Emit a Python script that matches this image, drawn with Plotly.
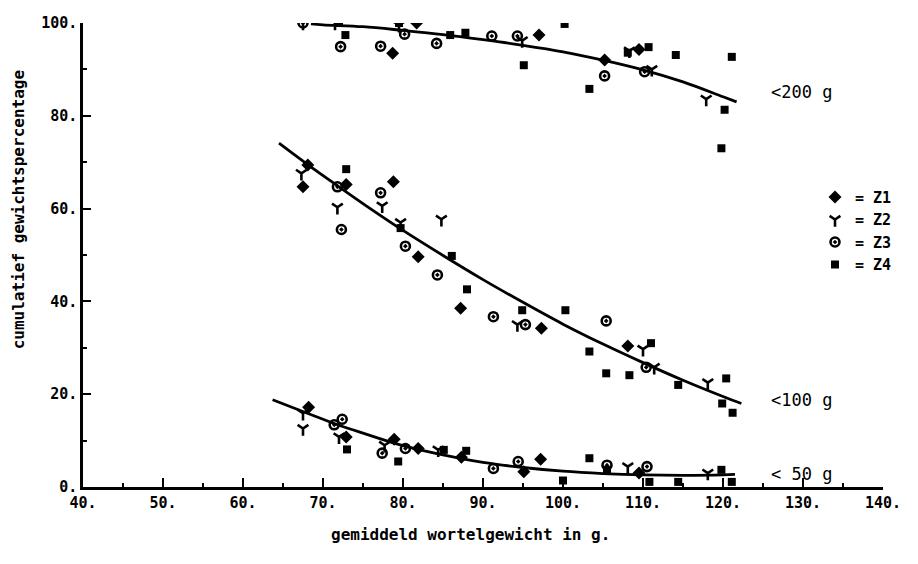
import plotly.graph_objects as go

# ---- data ----
z1_x = [78.7, 81.7, 97.0, 105.2, 109.5,
        68.1, 67.5, 72.9, 78.8, 81.9, 87.2, 97.3, 108.1,
        68.2, 72.9, 78.9, 81.9, 87.3, 95.1, 97.2, 109.5]
z1_y = [93.5, 100.0, 97.4, 92.0, 94.3,
        69.4, 64.7, 65.2, 65.8, 49.6, 38.5, 34.2, 30.4,
        17.2, 10.8, 10.3, 8.3, 6.4, 3.3, 6.0, 3.0]

z2_x = [67.5, 71.5, 79.5, 94.9, 108.3, 111.1, 117.9,
        67.3, 71.8, 77.4, 79.7, 84.8, 94.3, 110.0, 111.4, 118.1,
        67.5, 67.5, 72.0, 77.7, 84.4, 108.1, 118.1]
z2_y = [100.0, 100.0, 99.5, 96.2, 94.0, 90.0, 83.6,
        67.6, 60.3, 60.6, 57.0, 57.7, 35.0, 29.7, 25.8, 22.5,
        15.9, 12.6, 10.8, 9.0, 8.0, 4.4, 3.0]

z3_x = [67.5, 72.2, 77.2, 80.2, 84.2, 91.1, 94.3, 105.2, 110.2,
        71.8, 72.3, 77.2, 80.3, 84.3, 91.3, 95.3, 105.4, 110.4,
        72.4, 71.4, 77.4, 80.3, 91.3, 94.4, 105.5, 110.5]
z3_y = [100.0, 94.9, 95.0, 97.6, 95.6, 97.2, 97.2, 88.6, 89.5,
        64.7, 55.5, 63.4, 51.9, 45.7, 36.7, 35.0, 35.8, 25.8,
        14.6, 13.4, 7.3, 8.3, 4.0, 5.5, 4.7, 4.4]

z4_x = [72.0, 72.8, 79.5, 85.9, 87.8, 95.1, 100.2, 103.3, 108.1, 110.7, 114.1, 121.1, 120.2, 119.8,
        72.9, 79.7, 86.1, 88.0, 94.9, 100.3, 103.3, 105.4, 108.3, 111.0, 114.4, 120.4, 119.9, 121.2,
        73.0, 79.4, 85.1, 87.9, 100.0, 103.3, 105.5, 110.8, 114.4, 119.8, 121.1]
z4_y = [100.0, 97.4, 100.0, 97.4, 97.9, 90.9, 99.8, 85.8, 93.6, 94.8, 93.1, 92.7, 81.3, 73.0,
        68.5, 55.8, 49.8, 42.6, 38.1, 38.1, 29.2, 24.5, 24.1, 31.0, 22.0, 23.4, 18.0, 16.0,
        8.1, 5.5, 8.0, 7.8, 1.4, 6.2, 3.7, 1.1, 1.1, 3.7, 1.1]

# fitted curves
c200_x = [68.5, 70, 75, 80, 85, 90, 95, 100, 105, 110, 115, 120, 121.7]
c200_y = [99.8, 99.6, 99.2, 98.4, 97.5, 96.4, 95.2, 93.8, 92.0, 89.9, 87.3, 84.1, 83.0]
c100_x = [64.5, 68, 72, 76, 80, 85, 90, 95, 100, 105, 110, 115, 120, 122.3]
c100_y = [74.1, 69.6, 64.7, 59.9, 55.3, 49.9, 44.7, 39.8, 35.1, 30.8, 26.8, 23.0, 19.5, 18.0]
c50_x = [63.7, 67, 70, 72, 75, 80, 85, 90, 95, 100, 105, 110, 115, 120, 121.5]
c50_y = [18.8, 16.6, 14.6, 13.3, 11.6, 8.9, 6.9, 5.3, 4.2, 3.4, 2.9, 2.6, 2.5, 2.6, 2.7]

curve_labels = ["<200 g", "<100 g", "< 50 g"]
curve_label_y = [85.1, 18.8, 2.8]

x_ticks = [40, 50, 60, 70, 80, 90, 100, 110, 120, 130, 140]
y_ticks = [0, 20, 40, 60, 80, 100]

FONT = "DejaVu Sans Mono"

fig = go.Figure()

for cx, cy in [(c200_x, c200_y), (c100_x, c100_y), (c50_x, c50_y)]:
    fig.add_trace(go.Scatter(x=cx, y=cy, mode="lines", showlegend=False,
                             line=dict(color="black", width=2.8, shape="spline"),
                             hoverinfo="skip"))

series = [
    ("= Z1", z1_x, z1_y, dict(symbol="diamond", size=10, color="black")),
    ("= Z2", z2_x, z2_y, dict(symbol="y-down", size=9, color="black",
                               line=dict(color="black", width=2.6))),
    ("= Z3", z3_x, z3_y, dict(symbol="circle-open-dot", size=9, color="black",
                               line=dict(color="black", width=2.6))),
    ("= Z4", z4_x, z4_y, dict(symbol="square", size=8, color="black")),
]
for name, xs, ys, mk in series:
    fig.add_trace(go.Scatter(x=xs, y=ys, mode="markers", name=name, marker=mk))

for txt, yy in zip(curve_labels, curve_label_y):
    fig.add_annotation(x=125.7, y=yy, xref="x", yref="y", text=txt, showarrow=False,
                       xanchor="left", yanchor="middle",
                       font=dict(family=FONT, size=17, color="black"))

fig.add_annotation(x=-0.094, y=0.597, xref="paper", yref="paper",
                   text="cumulatief gewichtspercentage", textangle=-90, showarrow=False,
                   font=dict(family=FONT, size=16, color="black", weight="bold"))
fig.add_annotation(x=0.484, y=-0.103, xref="paper", yref="paper",
                   text="gemiddeld wortelgewicht in g.", showarrow=False,
                   yanchor="middle",
                   font=dict(family=FONT, size=16, color="black", weight="bold"))

fig.update_layout(
    width=918, height=564,
    margin=dict(l=83, r=35, t=23, b=77),
    paper_bgcolor="white", plot_bgcolor="white",
    font=dict(family=FONT, color="black"),
    legend=dict(x=0.915, y=0.66, xanchor="left", yanchor="top",
                bgcolor="rgba(0,0,0,0)", font=dict(family=FONT, size=15, color="black", weight="bold"),
                itemwidth=30, tracegroupgap=2),
    xaxis=dict(range=[40, 140], showgrid=False, zeroline=False,
               showline=True, linecolor="black", linewidth=2.5,
               ticks="inside", ticklen=9, tickwidth=2, tickcolor="black",
               tickvals=x_ticks, ticktext=[f"{v}." for v in x_ticks],
               tickfont=dict(family=FONT, size=15, color="black", weight="bold"),
               minor=dict(dtick=5, tick0=40, ticks="inside", ticklen=4, tickwidth=2, tickcolor="black")),
    yaxis=dict(range=[0, 100], showgrid=False, zeroline=False,
               showline=True, linecolor="black", linewidth=2.5,
               ticks="inside", ticklen=8, tickwidth=2, tickcolor="black",
               tickvals=y_ticks, ticktext=[f"{v}." for v in y_ticks],
               tickfont=dict(family=FONT, size=15, color="black", weight="bold"),
               minor=dict(dtick=10, tick0=0, ticks="inside", ticklen=4, tickwidth=2, tickcolor="black")),
)

fig.write_html("out.html")
